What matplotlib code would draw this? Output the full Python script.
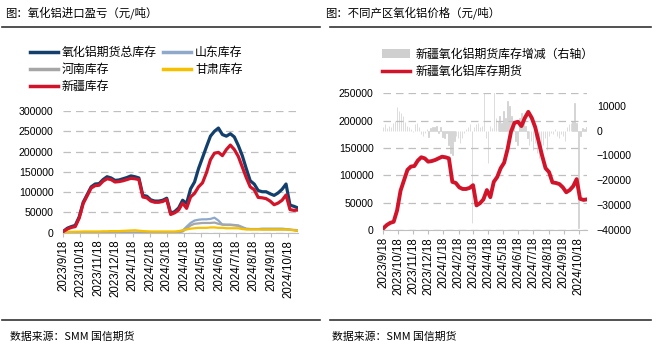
import numpy as np
import pandas as pd
import matplotlib.pyplot as plt
from matplotlib.lines import Line2D
from matplotlib.patches import Patch

plt.rcParams['font.family'] = ['Liberation Sans', 'Noto Sans CJK SC']

# 周度库存数据（吨）
dates = pd.date_range('2023-09-18', periods=60, freq='7D')

xinjiang = [3000, 9000, 13000, 15000, 36000, 72000, 91000, 110000, 116000, 117000,
            127000, 133000, 131000, 125000, 126000, 128000, 131000, 134000, 133000, 131000,
            88000, 86000, 78000, 75000, 75000, 77000, 82000, 45000, 49000, 56000,
            73000, 60000, 88000, 97000, 113000, 123000, 148000, 180000, 196000, 198000,
            190000, 205000, 216000, 205000, 188000, 162000, 136000, 113000, 106000, 87000,
            86000, 84000, 78000, 69000, 73000, 80000, 93000, 57000, 55000, 56000]

total = [3000, 11000, 15000, 18000, 39000, 75000, 94000, 113000, 120000, 121000,
         131000, 138000, 135000, 129000, 130000, 133000, 136000, 140000, 138000, 135000,
         92000, 90000, 81000, 78000, 78000, 80000, 85000, 48000, 52000, 61000,
         80000, 72000, 108000, 125000, 158000, 185000, 212000, 238000, 250000, 258000,
         242000, 238000, 244000, 236000, 215000, 190000, 158000, 128000, 120000, 104000,
         101000, 101000, 96000, 92000, 98000, 107000, 120000, 68000, 65000, 61000]

shandong = [0] * 29 + [2000, 5000, 15000, 24000, 30000, 32000, 33000, 33000, 34000, 37000, 30000,
                       20000, 20000, 20000, 19000, 18000, 14000, 10000, 9000, 9000, 9000,
                       10000, 10000, 10000, 10000, 10000, 10000, 9000, 8000, 6000, 4000]

henan = [0] * 29 + [1000, 3000, 10000, 18000, 22000, 23000, 24000, 24000, 24000, 25000, 22000,
                    20000, 19000, 19000, 18000, 17000, 12000, 9000, 9000, 9000, 9000,
                    8000, 8000, 8000, 8000, 8000, 8000, 8000, 7000, 7000, 6000]

gansu = [0, 2000, 2000, 2500, 2500, 3000, 3000, 3000, 3000, 3000,
         3500, 3500, 4000, 4000, 4000, 4500, 5000, 5500, 6000, 5000,
         4000, 3500, 3000, 3000, 3000, 3000, 3000, 3000, 3000, 4000,
         6000, 8000, 10000, 11000, 12000, 12000, 12000, 13000, 13000, 12000,
         12000, 11000, 11000, 11000, 11000, 9000, 8000, 8000, 8000, 8000,
         8000, 8000, 8000, 8000, 8000, 8000, 8000, 7000, 6000, 5000]

# 新疆氧化铝期货库存增减（右轴）
bar_dates = pd.date_range('2023-09-18', periods=104, freq='4D')
xj_change = [1500, 2500, 1000, 2000, 1500, 3000, 4000, 9600, 8000, 7000, 6000, 3500, 2000,
             1500, 500, -500, 2500, 3000, 1500, -1500, -2000, -1000, 500, -2500, 1000, 1500,
             1500, 2000, -1000, 1500, -2500, -3000, -1000, -6000, -9000, -10000, -4000, -2000, -3000,
             -5000, -3000, -1000, 500, 1500, 2500, -37000, 1500, 2500, 3000, 1500, 2000, 20000,
             -3000, -13000, 2000, 1000, 28000, 5000, 4000, 6000, 3000, 8000, 5000, 12000, 10000,
             6000, 3000, -4000, -6000, 5000, 7000, 4000, 2000, -3000, -6000, -4000, -8000, -5000,
             -9000, -11000, -7000, -6000, -3000, -8000, -2000, -1000, -1500, 500, -2000, -3000, -1500,
             -2000, -4000, 1500, 2500, 3000, 4000, 11000, 3000, -39000, -2000, 1000, 500, 1500]

tick_dates = pd.date_range('2023-09-18', periods=14, freq=pd.DateOffset(months=1))
tick_labels = [f'{d.year}/{d.month}/{d.day}' for d in tick_dates]

c_total = '#123F6B'
c_sd = '#8EA9CB'
c_hn = '#A6A6A6'
c_gs = '#F5C000'
c_xj = '#D2142A'
c_bar = '#CFCFCF'
grid_kw = dict(color='#BFBFBF', lw=0.9, ls=(0, (6, 4)))
cjk = 'Noto Sans CJK SC'

fig = plt.figure(figsize=(6.56, 3.48), dpi=100)


def style_axes(ax):
    for s in ['left', 'right', 'top']:
        ax.spines[s].set_visible(False)
    ax.spines['bottom'].set_color('#BFBFBF')
    ax.set_xlim(dates[0], dates[-1])
    ax.set_xticks(tick_dates)
    ax.set_xticklabels(tick_labels, rotation=90, fontsize=8.3)
    ax.tick_params(axis='x', length=3, color='#BFBFBF', pad=2)
    ax.tick_params(axis='y', length=0, labelsize=7.6, pad=7)


# 左图
ax1 = fig.add_axes([0.0965, 0.3313, 0.3577, 0.3497])
ax1.plot(dates, total, color=c_total, lw=2.3, zorder=3)
ax1.plot(dates, shandong, color=c_sd, lw=1.6, zorder=3)
ax1.plot(dates, henan, color=c_hn, lw=1.6, zorder=3)
ax1.plot(dates, gansu, color=c_gs, lw=1.6, zorder=4)
ax1.plot(dates, xinjiang, color=c_xj, lw=2.3, zorder=4)
ax1.set_ylim(0, 300000)
ax1.set_yticks(np.arange(0, 300001, 50000))
ax1.yaxis.grid(True, **grid_kw)
ax1.set_axisbelow(True)
style_axes(ax1)

h_left = [Line2D([], [], color=c_total, lw=2.5), Line2D([], [], color=c_hn, lw=2.5),
          Line2D([], [], color=c_xj, lw=2.5), Line2D([], [], color=c_sd, lw=2.5),
          Line2D([], [], color=c_gs, lw=2.5)]
l_left = ['氧化铝期货总库存', '河南库存', '新疆库存', '山东库存', '甘肃库存']
fig.legend(h_left, l_left, loc='upper left', bbox_to_anchor=(0.045, 0.868), ncol=2,
           frameon=False, prop={'family': cjk, 'size': 8.6}, handlelength=2.4,
           handletextpad=0.3, columnspacing=0.5, labelspacing=0.35, borderaxespad=0,
           borderpad=0)

# 右图
axr = fig.add_axes([0.5843, 0.3391, 0.3105, 0.3928])
axb = axr.twinx()
axb.bar(bar_dates, xj_change, width=0.8, color=c_bar, edgecolor=c_bar, linewidth=0.5, zorder=1)
axb.set_ylim(-40000, 15000)
axb.set_yticks(np.arange(-40000, 10001, 10000))
axr.plot(dates, xinjiang, color=c_xj, lw=2.8, zorder=3)
axr.set_ylim(0, 250000)
axr.set_yticks(np.arange(0, 250001, 50000))
axr.yaxis.grid(True, **grid_kw)
axr.set_zorder(axb.get_zorder() + 1)
axr.patch.set_visible(False)
style_axes(axr)
for s in ['left', 'right', 'top', 'bottom']:
    axb.spines[s].set_visible(False)
axb.tick_params(axis='y', length=0, labelsize=7.6, pad=7)

h_right = [Patch(facecolor=c_bar, edgecolor='none'), Line2D([], [], color=c_xj, lw=2.5)]
l_right = ['新疆氧化铝期货库存增减（右轴）', '新疆氧化铝库存期货']
fig.legend(h_right, l_right, loc='upper left', bbox_to_anchor=(0.582, 0.863), ncol=1,
           frameon=False, prop={'family': cjk, 'size': 8.6}, handlelength=2.4,
           handletextpad=0.4, labelspacing=0.35, borderaxespad=0, borderpad=0)

# 标题与来源
fig.text(5 / 656, 1 - 12.5 / 348, '图：氧化铝进口盈亏（元/吨）', family=cjk, fontsize=8.2, va='center')
fig.text(325 / 656, 1 - 12.5 / 348, '图：不同产区氧化铝价格（元/吨）', family=cjk, fontsize=8.2, va='center')
for x0, x1 in [(0.003, 0.488), (0.503, 0.992)]:
    fig.add_artist(Line2D([x0, x1], [1 - 27 / 348] * 2, color='#333333', lw=1.2))
    fig.add_artist(Line2D([x0, x1], [1 - 320 / 348] * 2, color='#333333', lw=1.2))
fig.text(10 / 656, 1 - 336.5 / 348, '数据来源：SMM 国信期货', family=cjk, fontsize=7.8, va='center')
fig.text(332 / 656, 1 - 336.5 / 348, '数据来源：SMM 国信期货', family=cjk, fontsize=7.8, va='center')

fig.savefig('out.png', dpi=100)
